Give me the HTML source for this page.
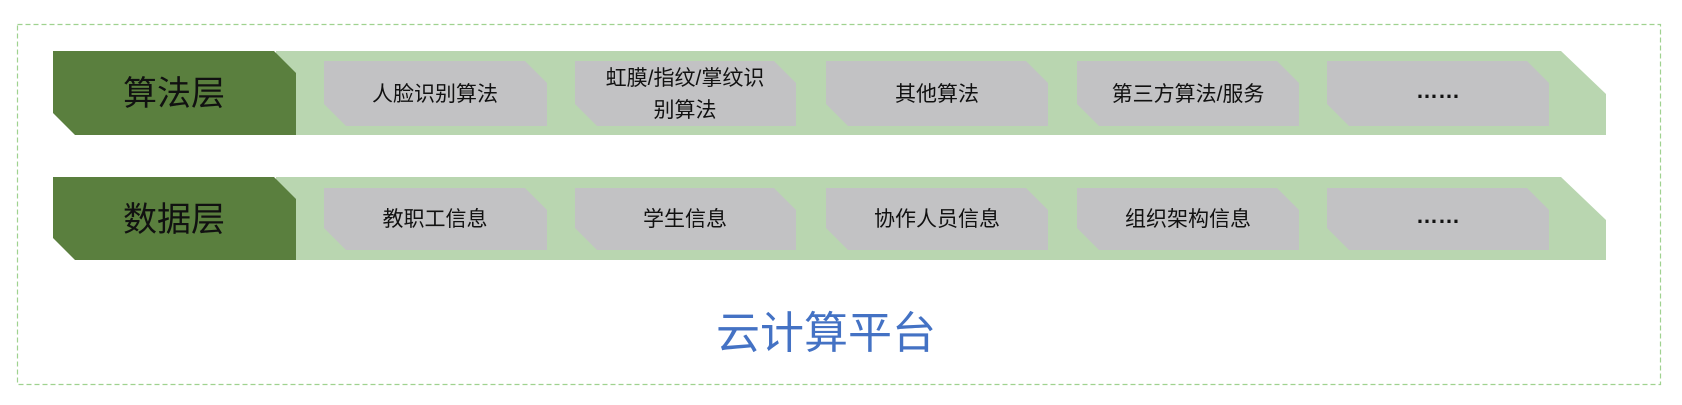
<!DOCTYPE html>
<html><head><meta charset="utf-8"><style>
html,body{margin:0;padding:0;background:#fff;}
svg{display:block;}
text{font-family:"Liberation Sans","Noto Sans CJK SC",sans-serif;}
</style></head><body>
<svg width="1682" height="405" viewBox="0 0 1682 405" xmlns="http://www.w3.org/2000/svg">
<rect x="17.5" y="24.5" width="1643" height="360" fill="none" stroke="#9fd28f" stroke-width="1.2" stroke-dasharray="5,3"/>
<!-- row 1 -->
<polygon points="276,51 1561,51 1606,94 1606,135 276,135" fill="#b9d6b0"/>
<polygon points="53,51 274,51 296,73 296,135 75,135 53,113" fill="#5a7f3e"/>
<text x="174" y="105" font-size="34" text-anchor="middle" fill="#111">算法层</text>
<g fill="#c2c2c4">
<polygon points="324,61 525,61 547,83 547,126 346,126 324,104"/>
<polygon points="575,61 774,61 796,83 796,126 597,126 575,104"/>
<polygon points="826,61 1026,61 1048,83 1048,126 848,126 826,104"/>
<polygon points="1077,61 1277,61 1299,83 1299,126 1099,126 1077,104"/>
<polygon points="1327,61 1527,61 1549,83 1549,126 1349,126 1327,104"/>
</g>
<g font-size="21" fill="#111" text-anchor="middle">
<text x="435" y="101">人脸识别算法</text>
<text x="685" y="85">虹膜/指纹/掌纹识</text>
<text x="685" y="117">别算法</text>
<text x="937" y="101">其他算法</text>
<text x="1188" y="101">第三方算法/服务</text>
<text x="1438" y="98" font-weight="bold" font-size="22">……</text>
</g>
<!-- row 2 -->
<polygon points="276,177 1561,177 1606,220 1606,260 276,260" fill="#b9d6b0"/>
<polygon points="53,177 274,177 296,199 296,260 75,260 53,238" fill="#5a7f3e"/>
<text x="174" y="231" font-size="34" text-anchor="middle" fill="#111">数据层</text>
<g fill="#c2c2c4">
<polygon points="324,188 525,188 547,210 547,250 346,250 324,228"/>
<polygon points="575,188 774,188 796,210 796,250 597,250 575,228"/>
<polygon points="826,188 1026,188 1048,210 1048,250 848,250 826,228"/>
<polygon points="1077,188 1277,188 1299,210 1299,250 1099,250 1077,228"/>
<polygon points="1327,188 1527,188 1549,210 1549,250 1349,250 1327,228"/>
</g>
<g font-size="21" fill="#111" text-anchor="middle">
<text x="435" y="226">教职工信息</text>
<text x="685" y="226">学生信息</text>
<text x="937" y="226">协作人员信息</text>
<text x="1188" y="226">组织架构信息</text>
<text x="1438" y="223" font-weight="bold" font-size="22">……</text>
</g>
<text x="826" y="348" font-size="44" text-anchor="middle" fill="#4472c4">云计算平台</text>
</svg>
</body></html>
